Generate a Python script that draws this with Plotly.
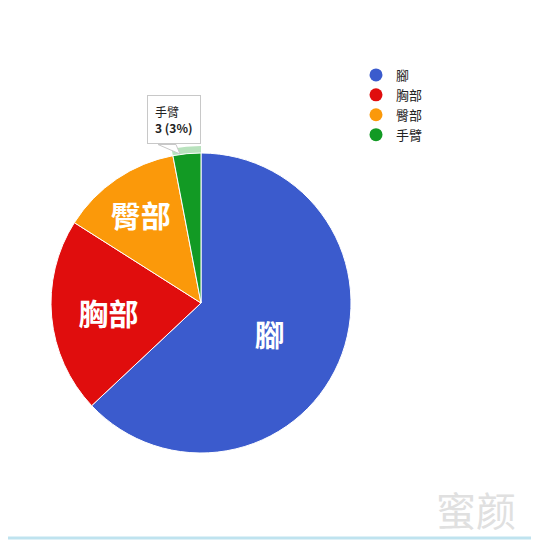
import plotly.graph_objects as go

# slice data
parts = ['腳', '胸部', '臀部', '手臂']
counts = [63, 21, 13, 3]
colors = ['#3b5bcd', '#e00d0d', '#fb990a', '#129a24']
slice_text = ['<b>%{label}</b>', '<b>%{label}</b>', '<b>%{label}</b>', '']

# the page body has an 8px margin, so the figure is drawn a bit smaller
OFF = 8
W, H = 539 - OFF, 541 - OFF

def px(x):
    return (x - OFF) / W

def py(y):
    return 1 - (y - OFF) / H

cx, cy, r = 201, 303, 150

def dom(rad):
    return dict(x=[px(cx - rad), px(cx + rad)], y=[py(cy + rad), py(cy - rad)])

fig = go.Figure()

# hover highlight ring around the small green slice
ring_r = 157
fig.add_trace(go.Pie(
    labels=parts, values=counts, sort=False, direction='clockwise', rotation=0,
    hole=r / ring_r, domain=dom(ring_r),
    marker=dict(colors=['rgba(0,0,0,0)', 'rgba(0,0,0,0)', 'rgba(0,0,0,0)', '#b8e2bd'],
                line=dict(width=0)),
    textinfo='none', hoverinfo='skip', showlegend=False
))

fig.add_trace(go.Pie(
    labels=parts, values=counts, sort=False, direction='clockwise', rotation=0,
    domain=dom(r),
    marker=dict(colors=colors, line=dict(color='white', width=1)),
    texttemplate=slice_text, textposition='inside', insidetextorientation='horizontal',
    textfont=dict(family='Noto Sans CJK TC', size=30, color='white'),
    showlegend=False
))

# legend with round markers
for name, col in zip(parts, colors):
    fig.add_trace(go.Scatter(x=[None], y=[None], mode='markers', name=name,
                             marker=dict(symbol='circle', size=13, color=col)))

# tooltip pointer
fig.add_shape(type='path', xref='paper', yref='paper',
              path='M %f %f L %f %f L %f %f Z' % (px(158), py(144.5), px(176), py(144.5), px(180), py(154)),
              fillcolor='white', line=dict(color='#c8c8c8', width=1))

# static tooltip for 手臂
fig.add_annotation(
    x=px(147), y=py(95), xref='paper', yref='paper', xanchor='left', yanchor='top',
    text='手臂<br><b>%d (%d%%)</b>' % (counts[3], round(100 * counts[3] / sum(counts))),
    showarrow=False, align='left', bgcolor='white', bordercolor='#c8c8c8', borderwidth=1,
    borderpad=7, font=dict(family='Noto Sans CJK TC', size=12, color='#222')
)

# watermark
fig.add_annotation(
    x=px(476), y=py(509), xref='paper', yref='paper', xanchor='center', yanchor='middle',
    showarrow=False, text='蜜颜',
    font=dict(family='Noto Sans CJK SC', size=40, color='#e0e0e0')
)

fig.add_shape(type='line', xref='paper', yref='paper', x0=0, x1=1,
              y0=py(538), y1=py(538), line=dict(color='#bfe3ef', width=3))

fig.update_layout(
    width=W, height=H, margin=dict(l=0, r=0, t=0, b=0),
    paper_bgcolor='white', plot_bgcolor='white',
    xaxis=dict(visible=False), yaxis=dict(visible=False),
    legend=dict(x=px(356), y=py(60), xanchor='left', yanchor='top',
                font=dict(family='Noto Sans CJK TC', size=13, color='#222'),
                itemwidth=30, tracegroupgap=0),
)

fig.write_html('out.html')
